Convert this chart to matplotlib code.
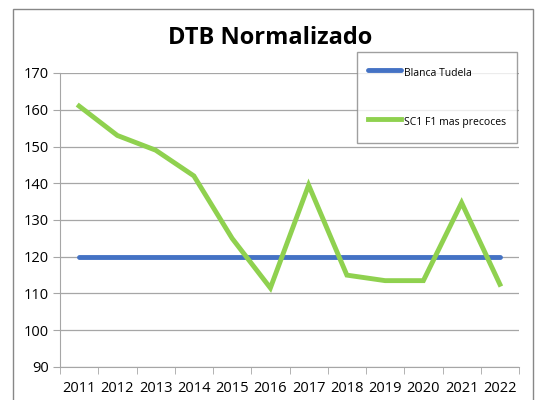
import numpy as np
import matplotlib
matplotlib.use('Agg')
import matplotlib.pyplot as plt
from matplotlib.patches import Rectangle

years = ['2011', '2012', '2013', '2014', '2015', '2016',
         '2017', '2018', '2019', '2020', '2021', '2022']
blanca_tudela = [120, 120, 120, 120, 120, 120, 120, 120, 120, 120, 120, 120]
sc1_f1 = [161, 153, 149, 142, 125, 111.5, 139.5, 115, 113.5, 113.5, 134.7, 112.5]

plt.rcParams['font.family'] = ['Open Sans', 'DejaVu Sans']

fig = plt.figure(figsize=(5.38, 4.0), dpi=100)
# outer chart border
fig.patches.append(Rectangle((13 / 538, -0.05), (533 - 13) / 538, 1.05 - 8.5 / 400,
                             transform=fig.transFigure, fill=False,
                             edgecolor='#878787', linewidth=1.0))

ax = fig.add_axes([60 / 538, 1 - 367 / 400, (519 - 60) / 538, (367 - 73) / 400])
x = np.arange(len(years))
ax.plot(x, blanca_tudela, color='#4472C4', linewidth=3.5, solid_capstyle='round',
        label='Blanca Tudela')
ax.plot(x, sc1_f1, color='#8FD14F', linewidth=3.5, solid_joinstyle='miter',
        label='SC1 F1 mas precoces')

ax.set_xlim(-0.5, len(years) - 0.5)
ax.set_ylim(90, 170)
ax.set_yticks(range(90, 171, 10))
ax.set_xticks(x)
ax.set_xticklabels(years)
ax.set_xticks(np.arange(-0.5, len(years), 1), minor=True)
ax.tick_params(axis='x', which='major', length=0, labelsize=10.5, pad=10)
ax.tick_params(axis='x', which='minor', length=5, color='#a6a6a6', direction='out')
ax.tick_params(axis='y', length=5, color='#a6a6a6', labelsize=10.5, pad=3)
ax.grid(axis='y', color='#a6a6a6', linewidth=0.9)
ax.set_axisbelow(True)
for s in ['top', 'right']:
    ax.spines[s].set_visible(False)
for s in ['left', 'bottom']:
    ax.spines[s].set_color('#a6a6a6')

fig.text(270 / 538, 1 - 38 / 400, 'DTB Normalizado', ha='center', va='center',
         fontsize=17, fontweight='bold')

leg = fig.legend(loc='upper left', bbox_to_anchor=(357 / 538, 1 - 52 / 400),
                 frameon=True, fancybox=False, fontsize=7.5, handlelength=3.1,
                 handleheight=2.44, handletextpad=0.3, labelspacing=2.85,
                 borderpad=1.1, borderaxespad=0)
leg.get_frame().set_edgecolor('#878787')
leg.get_frame().set_linewidth(1.0)

fig.savefig('out.png', dpi=100)
